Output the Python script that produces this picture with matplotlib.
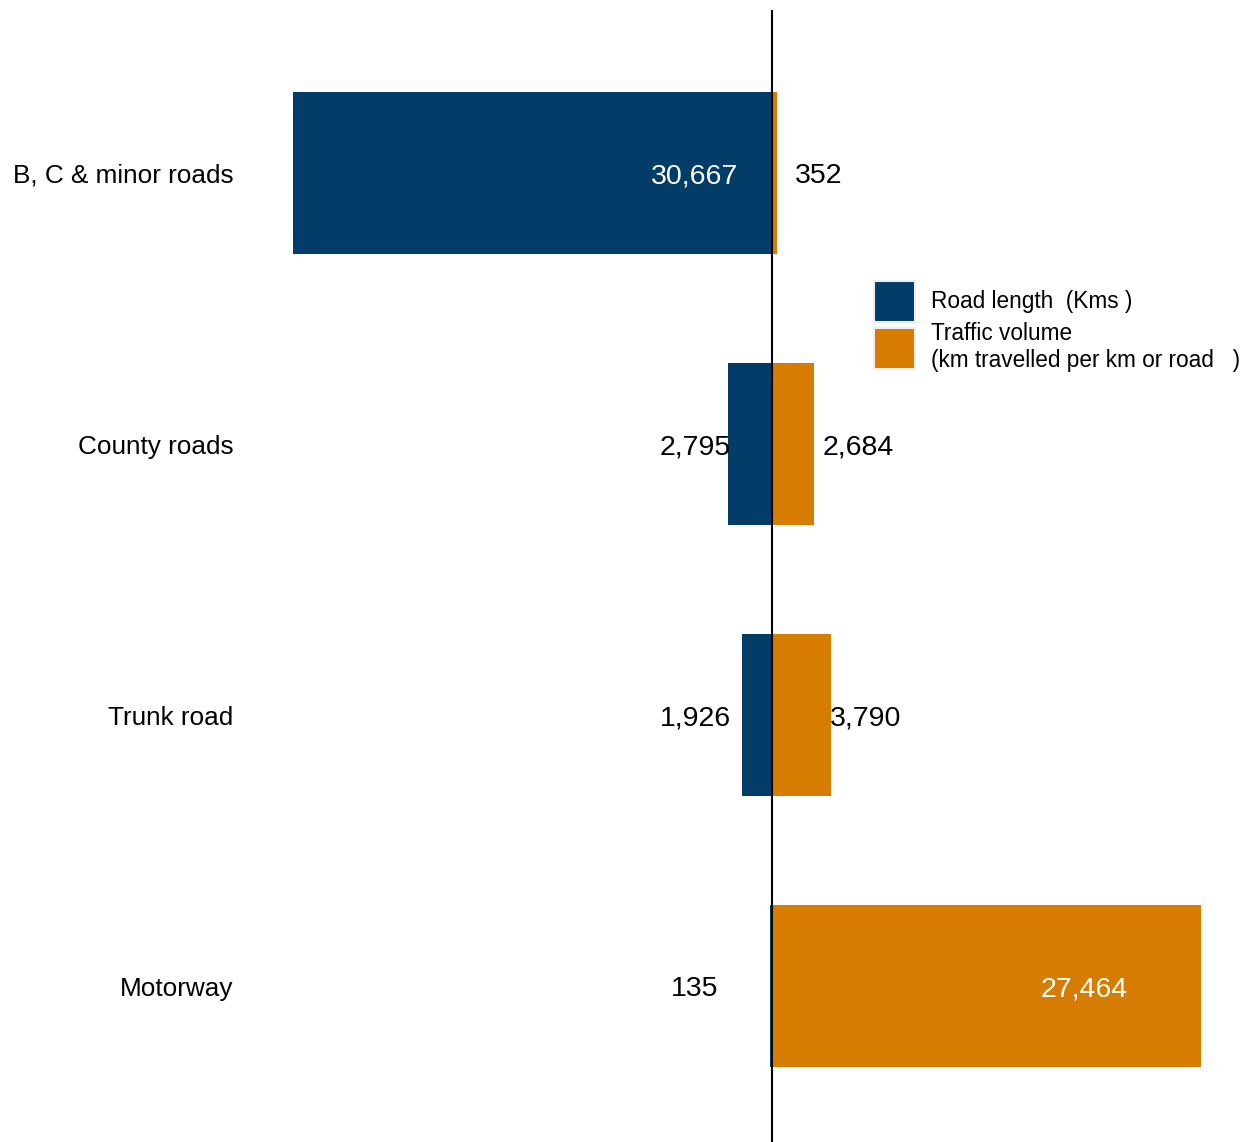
import matplotlib

matplotlib.use("Agg")
import matplotlib.pyplot as plt
from matplotlib.patches import Patch

plt.rcParams["font.family"] = ["Liberation Sans", "DejaVu Sans"]

# 도로 유형별 길이(왼쪽)와 교통량(오른쪽)
categories = ["B, C & minor roads", "County roads", "Trunk road", "Motorway"]
road_length = [30667, 2795, 1926, 135]
traffic_volume = [352, 2684, 3790, 27464]

NAVY = "#023c69"
ORANGE = "#d67c00"

# 값 라벨 위치 (데이터 좌표)
left_label_x = -4930
right_label_x = [3009, 5506, 6018, 19974]

W, H = 1258, 1142
fig = plt.figure(figsize=(W / 100, H / 100), dpi=100)
ax = fig.add_axes([243 / W, 0, (1250 - 243) / W, (H - 10) / H])

y = list(range(len(categories)))
ax.barh(y, [-v for v in road_length], height=0.6, color=NAVY, zorder=2)
ax.barh(y, traffic_volume, height=0.6, color=ORANGE, zorder=2)
ax.axvline(0, color="black", linewidth=1.5, zorder=3)

for i, v in enumerate(road_length):
    inside = v > 10000
    ax.text(left_label_x, i, f"{v:,}", ha="center", va="center_baseline",
            fontsize=20.5, color="white" if inside else "black", zorder=4)
for i, v in enumerate(traffic_volume):
    inside = v > 10000
    ax.text(right_label_x[i], i, f"{v:,}", ha="center", va="center_baseline",
            fontsize=20.5, color="white" if inside else "black", zorder=4)

ax.set_xlim(-33867, 30602)
ax.set_ylim(3.5756, -0.6015)
ax.set_yticks(y)
ax.set_yticklabels(categories, fontsize=18.8)
ax.tick_params(axis="y", length=0, pad=7)
ax.set_xticks([])
for s in ax.spines.values():
    s.set_visible(False)

handles = [
    Patch(facecolor=NAVY, edgecolor="#eeeeee", linewidth=1.5,
          label="Road length  (Kms )"),
    Patch(facecolor=ORANGE, edgecolor="#eeeeee", linewidth=1.5,
          label="Traffic volume\n(km travelled per km or road   )"),
]
fig.legend(handles=handles, loc="upper left",
           bbox_to_anchor=(874 / W, 1 - 281 / H), frameon=False,
           fontsize=16.3, handlelength=1.81, handleheight=2.41,
           handletextpad=0.7, labelspacing=0.0, borderpad=0,
           borderaxespad=0)

fig.savefig("out.png", dpi=100, facecolor="white")
